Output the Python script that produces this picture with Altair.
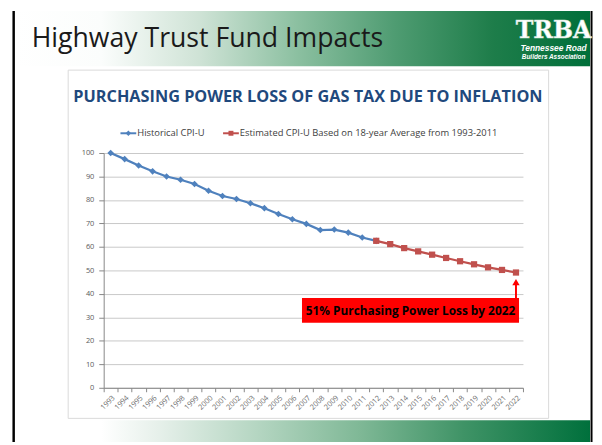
import altair as alt
import pandas as pd

# ---------------- data ----------------
years = [str(y) for y in range(1993, 2023)]
historical = [100, 97.4, 94.7, 92.2, 90.0, 88.6, 86.8, 83.9, 81.7, 80.4,
              78.6, 76.5, 74.0, 71.8, 69.8, 67.2, 67.4, 66.1, 64.0, 62.6]
estimated = [62.6, 61.2, 59.5, 58.1, 56.7, 55.3, 53.9, 52.6, 51.3, 50.2, 49.1]
series_names = ["Historical CPI-U",
                "Estimated CPI-U Based on 18-year Average from 1993-2011"]
y_ticks = [0, 10, 20, 30, 40, 50, 60, 70, 80, 90, 100]
slide_title = "Highway Trust Fund Impacts"
chart_title = "PURCHASING POWER LOSS OF GAS TAX DUE TO INFLATION"
callout = "51% Purchasing Power Loss by 2022"
callout_year = "2022"
callout_range = [38.2, 45.0]
logo_lines = ["TRBA", "Tennessee Road", "Builders Association"]

hist_df = pd.DataFrame({"year": years[:len(historical)], "value": historical,
                        "series": series_names[0]})
est_df = pd.DataFrame({"year": years[len(years) - len(estimated):], "value": estimated,
                       "series": series_names[1]})
one = pd.DataFrame({"k": [0]})

BLUE = "#4F81BD"
RED = "#C0504D"

xscale = alt.Scale(type="band", domain=years, paddingInner=0, paddingOuter=0)
yscale = alt.Scale(domain=[0, 100], nice=False)

x_axis = alt.Axis(labelAngle=315, labelFontSize=7.5, labelColor="#6a6a6a",
                  labelFont="Open Sans", tickBand="extent", tickSize=4,
                  tickColor="#868686", domainColor="#868686", grid=False,
                  labelPadding=2, labelOverlap=False)
y_axis = alt.Axis(values=y_ticks, labelFontSize=7.5, labelColor="#595959",
                  labelFont="Open Sans", tickSize=5, tickColor="#868686",
                  domainColor="#868686", gridColor="#C8C8C8", labelPadding=5,
                  labelOverlap=False)
X = alt.X("year:O", scale=xscale, title=None, axis=x_axis)
Y = alt.Y("value:Q", scale=yscale, title=None, axis=y_axis)

def green_grad(stops):
    return {"gradient": "linear", "x1": 0, "x2": 1, "y1": 0, "y2": 0,
            "stops": [{"offset": o, "color": c} for o, c in stops]}

header = alt.Chart(one).mark_rect(fill=green_grad([
    (0, "#ffffff"), (0.15, "#fbfdfc"), (0.32, "#cfe3d6"), (0.49, "#8cc0a1"),
    (0.66, "#4f9c72"), (0.83, "#1e7d4a"), (1, "#006f3a")])).encode(
    x=alt.value(-90), x2=alt.value(493), y=alt.value(-144), y2=alt.value(-88))

footer = alt.Chart(one).mark_rect(fill=green_grad([
    (0, "#ffffff"), (0.15, "#ffffff"), (0.25, "#e6f0ea"), (0.42, "#b5d6c2"),
    (0.6, "#7fb896"), (0.78, "#3f9366"), (1, "#00703c")])).encode(
    x=alt.value(-90), x2=alt.value(493), y=alt.value(271), y2=alt.value(293))

left_bar = alt.Chart(one).mark_rect(color="#000000").encode(
    x=alt.value(-92.5), x2=alt.value(-90), y=alt.value(-144), y2=alt.value(293))
right_bar = alt.Chart(one).mark_rect(color="#000000").encode(
    x=alt.value(493.5), x2=alt.value(495.5), y=alt.value(-144), y2=alt.value(293))

box = alt.Chart(one).mark_rect(fillOpacity=0, stroke="#D9D9D9", strokeWidth=1).encode(
    x=alt.value(-36), x2=alt.value(451), y=alt.value(-84), y2=alt.value(269))

title_main = alt.Chart(one).mark_text(
    text=slide_title, font="Open Sans", fontSize=27, align="left",
    baseline="alphabetic", color="#1a1a1a").encode(x=alt.value(-73), y=alt.value(-107))

logo1 = alt.Chart(one).mark_text(
    text=logo_lines[0], font="DejaVu Serif", fontSize=24, fontWeight="bold",
    align="center", baseline="alphabetic", color="#ffffff", stroke="#cfe3d6",
    strokeWidth=0.5).encode(x=alt.value(456), y=alt.value(-117))
logo2 = alt.Chart(one).mark_text(
    text=logo_lines[1], font="Liberation Sans", fontSize=8.5, fontWeight="bold",
    fontStyle="italic", align="center", baseline="alphabetic",
    color="#ffffff").encode(x=alt.value(456), y=alt.value(-103))
logo3 = alt.Chart(one).mark_text(
    text=logo_lines[2], font="Liberation Sans", fontSize=6.5, fontWeight="bold",
    fontStyle="italic", align="center", baseline="alphabetic",
    color="#ffffff").encode(x=alt.value(456), y=alt.value(-95))

ctitle = alt.Chart(one).mark_text(
    text=chart_title, font="Open Sans", fontSize=16.5, fontWeight="bold",
    align="center", baseline="middle", color="#1F497D").encode(
    x=alt.value(207), y=alt.value(-57))

# legend
leg_blue_line = alt.Chart(one).mark_rule(color=BLUE, strokeWidth=2).encode(
    x=alt.value(17), x2=alt.value(33), y=alt.value(-20))
leg_blue_pt = alt.Chart(one).mark_point(shape="diamond", filled=True, color=BLUE,
                                        size=30, opacity=1).encode(
    x=alt.value(25), y=alt.value(-20))
leg_blue_txt = alt.Chart(one).mark_text(
    text=series_names[0], font="Open Sans", fontSize=9.5, align="left",
    baseline="middle", color="#404040").encode(x=alt.value(34), y=alt.value(-20))
leg_red_line = alt.Chart(one).mark_rule(color=RED, strokeWidth=2).encode(
    x=alt.value(121), x2=alt.value(137), y=alt.value(-20))
leg_red_pt = alt.Chart(one).mark_point(shape="square", filled=True, color=RED,
                                       size=25, opacity=1).encode(
    x=alt.value(129), y=alt.value(-20))
leg_red_txt = alt.Chart(one).mark_text(
    text=series_names[1], font="Open Sans", fontSize=9.5, align="left",
    baseline="middle", color="#404040").encode(x=alt.value(138), y=alt.value(-20))

# series
hist_line = alt.Chart(hist_df).mark_line(color=BLUE, strokeWidth=2.25).encode(x=X, y=Y)
hist_pts = alt.Chart(hist_df).mark_point(shape="diamond", filled=True, color=BLUE,
                                         size=45, opacity=1).encode(x=X, y=Y)
est_line = alt.Chart(est_df).mark_line(color=RED, strokeWidth=2.25).encode(x=X, y=Y)
est_pts = alt.Chart(est_df).mark_point(shape="square", filled=True, color=RED,
                                       size=40, opacity=1).encode(x=X, y=Y)

# callout
callout_box = alt.Chart(one).mark_rect(color="#FF0000").encode(
    x=alt.value(201), x2=alt.value(421), y=alt.value(147), y2=alt.value(172))
callout_txt = alt.Chart(one).mark_text(
    text=callout, font="Open Sans", fontSize=12, fontWeight="bold",
    align="center", baseline="middle", color="#000000").encode(
    x=alt.value(311), y=alt.value(160))
arrow_df = pd.DataFrame({"year": [callout_year], "value": [callout_range[0]],
                         "value2": [callout_range[1]]})
arrow_line = alt.Chart(arrow_df).mark_rule(color="#FF0000", strokeWidth=2).encode(
    x=X, y=Y, y2="value2:Q")
arrow_head = alt.Chart(arrow_df).mark_point(shape="triangle-up", filled=True,
                                            color="#FF0000", size=55, opacity=1).encode(
    x=X, y=alt.Y("value2:Q", scale=yscale, title=None, axis=y_axis))

chart = alt.layer(
    header, footer, left_bar, right_bar, box, title_main, logo1, logo2, logo3,
    ctitle, leg_blue_line, leg_blue_pt, leg_blue_txt, leg_red_line, leg_red_pt,
    leg_red_txt, hist_line, hist_pts, est_line, est_pts,
    callout_box, callout_txt, arrow_line, arrow_head
).properties(
    width=425, height=238,
    autosize=alt.AutoSizeParams(type="none"),
    padding={"left": 97, "top": 144, "right": 72, "bottom": 55},
    background="#ffffff"
).configure_view(stroke=None)

chart.save("out.html", embed_options={"renderer": "svg", "actions": False})
